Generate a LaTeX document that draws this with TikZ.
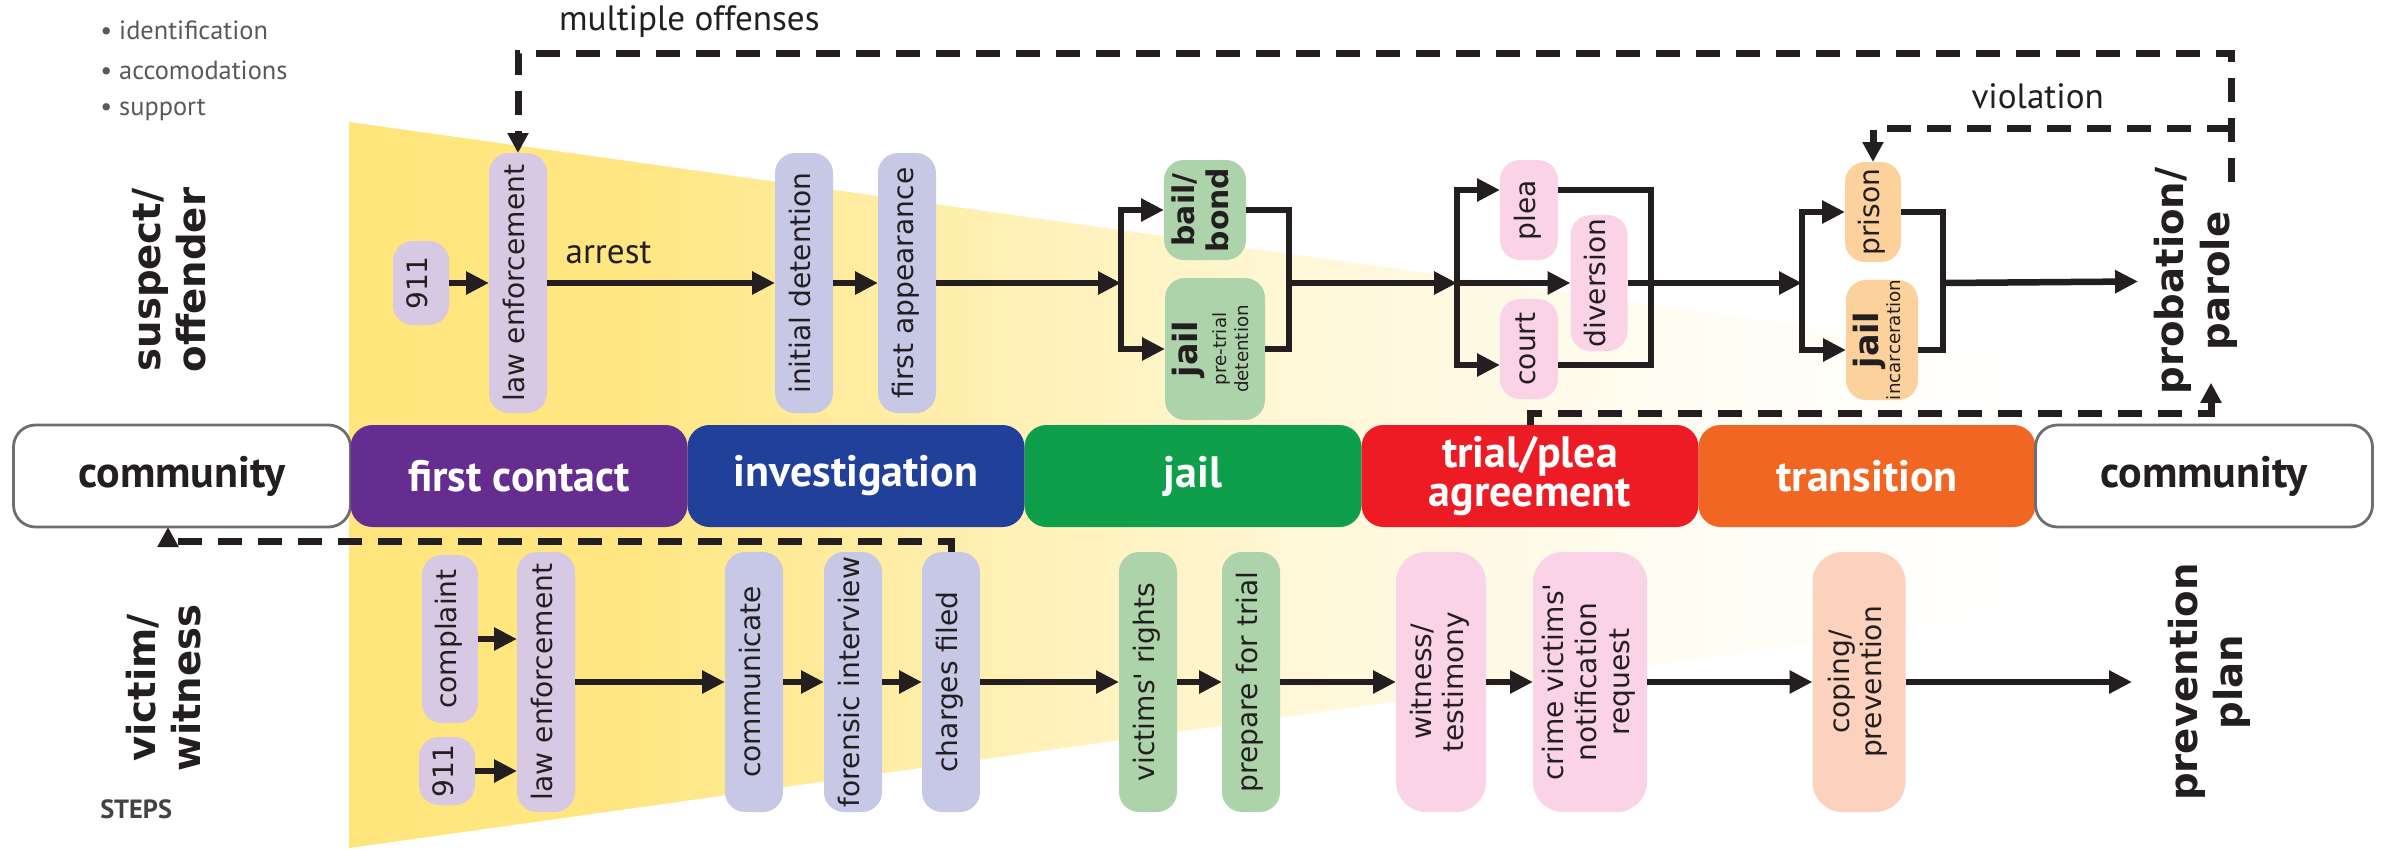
\documentclass[tikz,border=0pt]{standalone}
\usepackage{fontspec}
\setmainfont{PT Sans}
\newfontfamily\vfont{DejaVu Sans}
\usepackage{graphicx}
\usetikzlibrary{arrows.meta,positioning}

\definecolor{ink}{HTML}{231F20}
\definecolor{fanyellow}{HTML}{FFE57B}
\definecolor{lilac}{HTML}{D7C9E3}
\definecolor{periwinkle}{HTML}{C7C8E6}
\definecolor{sage}{HTML}{ADD3AB}
\definecolor{blush}{HTML}{FAD4E6}
\definecolor{apricot}{HTML}{FDD19C}
\definecolor{peach}{HTML}{FCD2BE}
\definecolor{contactpurple}{HTML}{662D91}
\definecolor{investblue}{HTML}{21409A}
\definecolor{jailgreen}{HTML}{0E9F4A}
\definecolor{trialred}{HTML}{ED1C24}
\definecolor{transorange}{HTML}{F16623}
\definecolor{rimgray}{HTML}{6D6E71}
\definecolor{notegray}{HTML}{58595B}

\pgfdeclarehorizontalshading{fanfade}{100bp}{color(0bp)=(fanyellow); color(25bp)=(fanyellow); color(33bp)=(fanyellow!95!white); color(44bp)=(fanyellow!55!white); color(52bp)=(fanyellow!30!white); color(62bp)=(fanyellow!10!white); color(72bp)=(white); color(100bp)=(white)}

\newcommand{\vlab}[1]{\rotatebox{90}{\begin{tabular}{@{}c@{}}#1\end{tabular}}}

\begin{document}
\begin{tikzpicture}[>={Triangle[length=0.23cm,width=0.22cm]}, line width=0.065cm, color=ink,
  pill/.style={rounded corners=0.2cm, inner sep=0pt, outer sep=0pt, text=ink, font=\vfont\fontsize{8}{9.3}\selectfont},
  tall/.style={pill, minimum width=0.58cm, minimum height=2.6cm},
  band/.style={rounded corners=0.22cm, minimum width=3.37cm, minimum height=1.02cm, inner sep=0pt, outer sep=0pt, text=white, font=\bfseries\fontsize{12.5}{11}\selectfont, align=center},
  lane/.style={inner sep=0pt, text=ink, font=\vfont\bfseries\fontsize{11}{13}\selectfont},
  lbl/.style={inner sep=0pt, text=ink, font=\fontsize{10}{12}\selectfont},
  note/.style={inner sep=0pt, anchor=west, text=notegray, font=\fontsize{7.5}{9}\selectfont},
  dashline/.style={dash pattern=on 0.24cm off 0.16cm, line width=0.07cm, >={Triangle[length=0.2cm,width=0.2cm]}}]

\useasboundingbox (0,0) rectangle (23.86,-8.48);

\shade[shading=fanfade] (3.49,-1.22) -- (21.2,-3.70) -- (21.2,-6.00) -- (3.49,-8.48) -- cycle;

\node[note] (id1) at (0.97,-0.30) {• identification};
\node[note] (acc1) at (0.97,-0.70) {• accomodations};
\node[note] (sup1) at (0.97,-1.10) {• support};
\node[note, text=ink!85, font=\bfseries\fontsize{7.5}{9}\selectfont] (steps) at (0.97,-8.09) {STEPS};
\node[note] (id2) at (0.97,-8.60) {• identification};

% stages
\node[band, fill=white, draw=rimgray, line width=0.8pt, text=ink] (comL) at (1.82,-4.76) {community};
\node[band, fill=contactpurple, right=0pt of comL] (contact) {first contact};
\node[band, fill=investblue, right=0pt of contact] (invest) {investigation};
\node[band, fill=jailgreen, right=0pt of invest] (jailband) {jail};
\node[band, fill=trialred, right=0pt of jailband] (trial) {trial/plea\\agreement};
\node[band, fill=transorange, right=0pt of trial] (transit) {transition};
\node[band, fill=white, draw=rimgray, line width=0.8pt, text=ink, right=0pt of transit] (comR) {community};

% suspect / offender
\node[lane] (suspect) at (1.74,-2.80) {\vlab{suspect/\\offender}};
\node[pill, fill=lilac, minimum width=0.56cm, minimum height=0.84cm] (call1) at (4.21,-2.83) {\vlab{911}};
\node[tall, fill=lilac] (police1) at (5.18,-2.83) {\vlab{law enforcement}};
\node[tall, fill=periwinkle] (detain) at (8.04,-2.83) {\vlab{initial detention}};
\node[tall, fill=periwinkle] (appear) at (9.07,-2.83) {\vlab{first appearance}};
\node[pill, fill=sage, minimum width=0.82cm, minimum height=1.0cm, font=\vfont\bfseries\fontsize{8.5}{9.5}\selectfont] (bail) at (12.05,-2.10) {\vlab{bail/\\bond}};
\node[pill, fill=sage, minimum width=1.0cm, minimum height=1.42cm] (pretrial) at (12.15,-3.49) {\vlab{{\bfseries\fontsize{9.5}{9}\selectfont jail}\\[-1pt]{\fontsize{5.2}{5.6}\selectfont pre-trial}\\[-3pt]{\fontsize{5.2}{5.6}\selectfont detention}}};
\node[pill, fill=blush, minimum width=0.58cm, minimum height=1.0cm] (plea) at (15.29,-2.10) {\vlab{plea}};
\node[pill, fill=blush, minimum width=0.58cm, minimum height=1.0cm] (court) at (15.29,-3.49) {\vlab{court}};
\node[pill, fill=blush, minimum width=0.57cm, minimum height=1.36cm] (divert) at (15.99,-2.83) {\vlab{diversion}};
\node[pill, fill=apricot, minimum width=0.56cm, minimum height=1.0cm] (prison) at (18.73,-2.12) {\vlab{prison}};
\node[pill, fill=apricot, minimum width=0.72cm, minimum height=1.2cm] (jail2) at (18.82,-3.40) {\vlab{{\bfseries\fontsize{9.5}{9}\selectfont jail}\\[-3pt]{\fontsize{5.2}{5.6}\selectfont incarceration}}};
\node[lane] (parole) at (21.97,-2.81) {\vlab{probation/\\parole}};

\coordinate (fork1) at (11.21,-2.83);
\coordinate (join1) at (12.89,-2.83);
\coordinate (fork2) at (14.57,-2.83);
\coordinate (join2) at (16.51,-2.83);
\coordinate (fork3) at (18.02,-2.83);
\coordinate (join3) at (19.43,-2.83);

\draw[->] (call1) -- (call1 -| police1.west);
\draw[->] (police1) -- node[lbl, pos=0.27, above=0.16cm] {arrest} (detain);
\draw[->] (detain) -- (appear);
\draw[->] (appear) -- (fork1);
\draw[->] (fork1) |- (bail);
\draw[->] (fork1) |- (pretrial);
\draw (bail) -| (join1) |- (pretrial);
\draw[->] (join1) -- (fork2);
\draw[->] (fork2) |- ([yshift=0.2cm]plea.west);
\draw[->] (fork2) |- ([yshift=-0.16cm]court.west);
\draw[->] (fork2) -- (divert);
\draw ([yshift=0.2cm]plea.east) -| (join2) |- ([yshift=-0.16cm]court.east);
\draw[->] (divert) -- (fork3);
\draw[->] (fork3) |- (prison);
\draw[->] (fork3) |- ([yshift=-0.1cm]jail2.west);
\draw (prison) -| (join3) |- ([yshift=-0.1cm]jail2.east);
\draw[->, shorten >=0.1cm] (join3) -- (parole);

% victim / witness
\node[lane] (victim) at (1.69,-6.88) {\vlab{victim/\\witness}};
\node[pill, fill=lilac, minimum width=0.56cm, minimum height=1.68cm] (complaint) at (4.50,-6.39) {\vlab{complaint}};
\node[pill, fill=lilac, minimum width=0.56cm, minimum height=0.68cm] (call2) at (4.47,-7.71) {\vlab{911}};
\node[tall, fill=lilac] (police2) at (5.46,-6.82) {\vlab{law enforcement}};
\node[tall, fill=periwinkle] (talk) at (7.54,-6.82) {\vlab{communicate}};
\node[tall, fill=periwinkle] (forensic) at (8.53,-6.82) {\vlab{forensic interview}};
\node[tall, fill=periwinkle] (charges) at (9.51,-6.82) {\vlab{charges filed}};
\node[tall, fill=sage] (rights) at (11.48,-6.82) {\vlab{victims' rights}};
\node[tall, fill=sage] (prepare) at (12.51,-6.82) {\vlab{prepare for trial}};
\node[tall, fill=blush, minimum width=0.9cm, rounded corners=0.3cm] (testify) at (14.41,-6.82) {\vlab{witness/\\testimony}};
\node[tall, fill=blush, minimum width=1.14cm, rounded corners=0.3cm] (notify) at (15.90,-6.82) {\vlab{crime victims'\\notification\\request}};
\node[tall, fill=peach, minimum width=0.93cm, rounded corners=0.3cm] (coping) at (18.59,-6.82) {\vlab{coping/\\prevention}};
\node[lane] (plan) at (22.11,-6.82) {\vlab{prevention\\plan}};

\draw[->] (complaint) -- (complaint -| police2.west);
\draw[->] (call2) -- (call2 -| police2.west);
\draw[->] (police2) -- (talk);
\draw[->] (talk) -- (forensic);
\draw[->] (forensic) -- (charges);
\draw[->] (charges) -- (rights);
\draw[->] (rights) -- (prepare);
\draw[->] (prepare) -- (testify);
\draw[->] (testify) -- (notify);
\draw[->] (notify) -- (coping);
\draw[->, shorten >=0.3cm] (coping) -- (plan);

% loops back
\coordinate (probtop) at (22.31,-1.82);
\coordinate (loopcorner) at (22.31,-0.53);
\coordinate (viostart) at (22.31,-1.28);
\draw[dashline,->] (probtop) -- (loopcorner) -| node[lbl, pos=0.45, above=0.12cm] {multiple offenses} (police1);
\draw[dashline,->] (viostart) -| node[lbl, pos=0.27, above=0.16cm] {violation} (prison);
\draw[dashline,->] (trial.north) -- ++(0,0.12) -| ([xshift=0.14cm,yshift=0.15cm]parole.south);
\draw[dashline,->] (charges.north) -- ++(0,0.11) -| ([xshift=-0.14cm]comL.south);

\end{tikzpicture}
\end{document}
